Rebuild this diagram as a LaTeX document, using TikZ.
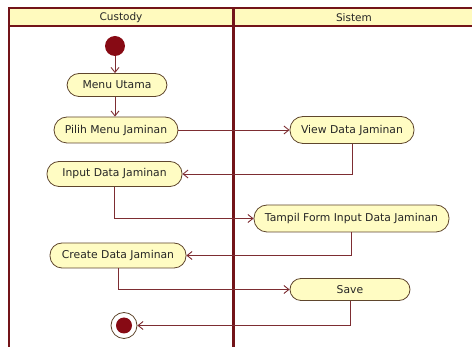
\documentclass[tikz,border=0pt]{standalone}
\usepackage{fontspec}
\setmainfont{DejaVu Sans}
\usetikzlibrary{arrows.meta}
\definecolor{lane}{RGB}{115,20,25}
\definecolor{wire}{RGB}{125,45,50}
\definecolor{nodeedge}{RGB}{95,70,45}
\definecolor{nodefill}{RGB}{255,252,195}
\definecolor{headfill}{RGB}{255,250,190}
\definecolor{dot}{RGB}{135,10,20}
\tikzset{
  x=1pt,y=-1pt,
  act/.style={draw=nodeedge,fill=nodefill,line width=0.8pt,rounded corners=12pt,
    inner sep=0pt,font=\fontsize{10.8}{12}\selectfont,text=black!85},
  flow/.style={draw=wire,line width=0.9pt,-{Straight Barb[length=5pt,width=8pt]}},
  lanebar/.style={draw=lane,line width=2pt},
  headtext/.style={font=\fontsize{10.5}{12}\selectfont,text=black!85},
}
\begin{document}
\begin{tikzpicture}
\useasboundingbox (0,0) rectangle (472,347);
% header
\fill[headfill] (9,8) rectangle (480,26);
\draw[lanebar] (480,8) -- (9,8) -- (9,350);
\draw[draw=lane,line width=1.2pt] (9,26) -- (480,26);
\draw[draw=lane,line width=3pt] (233,8) -- (233,350);
\node[headtext] (h1) at (121,17.5) {Custody};
\node[headtext] (h2) at (354,17.5) {Sistem};
% nodes
\node[circle,fill=dot,minimum size=20pt,inner sep=0pt] (start) at (115,46) {};
\node[act,minimum width=100pt,minimum height=23pt] (menu) at (117,85) {Menu Utama};
\node[act,minimum width=124pt,minimum height=26pt,rounded corners=13pt] (pilih) at (116,130) {Pilih Menu Jaminan};
\node[act,minimum width=124pt,minimum height=27pt,rounded corners=13pt] (view) at (352,130) {View Data Jaminan};
\node[act,minimum width=135pt,minimum height=25pt] (input) at (114.5,174) {Input Data Jaminan};
\node[act,minimum width=195pt,minimum height=27pt,rounded corners=13pt] (tampil) at (351.5,218.5) {Tampil Form Input Data Jaminan};
\node[act,minimum width=136pt,minimum height=25pt] (create) at (118,255.5) {Create Data Jaminan};
\node[act,minimum width=120pt,minimum height=22pt,rounded corners=11pt] (save) at (350,289.5) {Save};
\node[circle,draw=nodeedge,fill=white,line width=0.8pt,minimum size=26pt,inner sep=0pt] (end) at (124,325.5) {};
\node[circle,fill=dot,minimum size=16pt,inner sep=0pt] (endin) at (end.center) {};
% flows
\draw[flow] (start) -- (start |- menu.north);
\draw[flow] (menu.south -| start) -- (start |- pilih.north);
\draw[flow] (pilih.east) -- (view.west);
\draw[flow] (view.south) |- (input.east);
\draw[flow] (input.south) |- (tampil.west);
\draw[flow] (tampil.south) |- (create.east);
\draw[flow] (create.south) |- (save.west);
\draw[flow] (save.south) |- (end.east);
\end{tikzpicture}
\end{document}
